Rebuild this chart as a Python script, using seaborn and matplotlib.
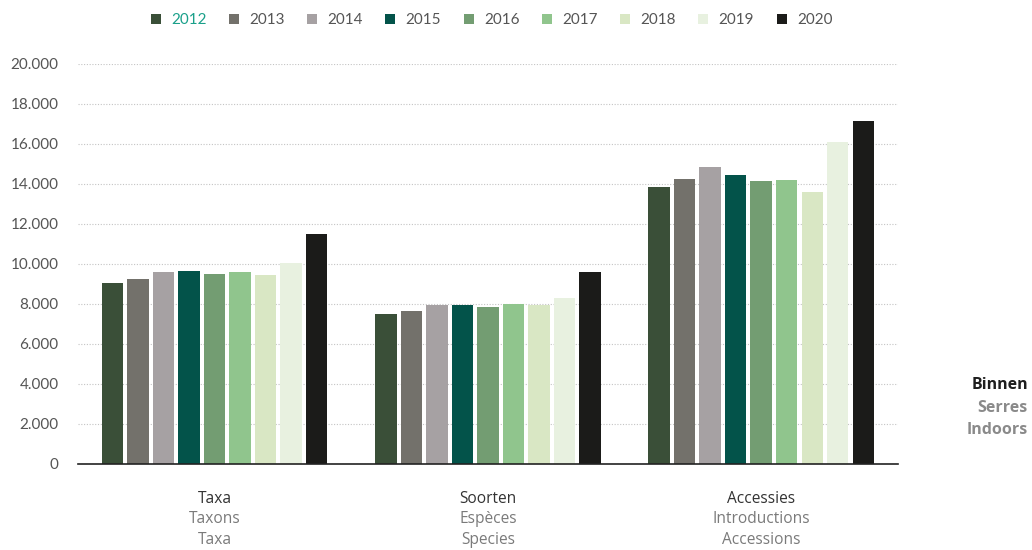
import matplotlib
matplotlib.use("Agg")
import matplotlib.pyplot as plt
from matplotlib.lines import Line2D
from matplotlib.ticker import FuncFormatter
import pandas as pd
import seaborn as sns

# Data
categories = ["Taxa", "Soorten", "Accessies"]
years = ["2012", "2013", "2014", "2015", "2016", "2017", "2018", "2019", "2020"]
taxa = [9050, 9250, 9580, 9650, 9520, 9580, 9450, 10050, 11480]
soorten = [7480, 7670, 7950, 7930, 7870, 8000, 7950, 8320, 9580]
accessies = [13870, 14250, 14850, 14450, 14130, 14200, 13600, 16100, 17150]
label_lines = [
    ["Taxa", "Taxons", "Taxa"],
    ["Soorten", "Espèces", "Species"],
    ["Accessies", "Introductions", "Accessions"],
]
side_label = ["Binnen", "Serres", "Indoors"]
colors = ["#3a4f38", "#73716b", "#a6a1a3", "#03534a", "#739d72",
          "#90c58d", "#d9e7c4", "#e8f1e0", "#1b1b19"]

rows = []
for cat, vals in zip(categories, [taxa, soorten, accessies]):
    for yr, v in zip(years, vals):
        rows.append({"categorie": cat, "jaar": yr, "waarde": v})
df = pd.DataFrame(rows)

sns.set_theme(style="white")
plt.rcParams["font.family"] = ["Lato", "DejaVu Sans"]

fig = plt.figure(figsize=(10.32, 5.5), dpi=100)
ax = fig.add_axes([0.0756, 0.1564, 0.7944, 0.7273])

sns.barplot(
    data=df, x="categorie", y="waarde", hue="jaar", order=categories,
    hue_order=years, palette=colors, saturation=1, width=0.84, gap=0.16,
    linewidth=0, ax=ax, legend=False,
)

ax.set_xlim(-0.5, 2.5)
ax.set_ylim(0, 20000)
ax.set_yticks(range(0, 20001, 2000))
ax.yaxis.set_major_formatter(FuncFormatter(lambda v, p: f"{int(v):,}".replace(",", ".")))
ax.tick_params(axis="y", labelsize=11, labelcolor="#555555", length=0, pad=14)
ax.set_xticks([])
ax.set_xlabel("")
ax.set_ylabel("")
ax.grid(axis="y", color="#c4c4c4", linestyle=(0, (1, 1.5)), linewidth=0.8)
ax.set_axisbelow(True)
for s in ["top", "right", "left"]:
    ax.spines[s].set_visible(False)
ax.spines["bottom"].set_color("#222222")
ax.spines["bottom"].set_linewidth(1.2)

# three-line category labels below the axis
for i, lines in enumerate(label_lines):
    for j, t in enumerate(lines):
        ax.text(i, -0.087 - j * 0.051, t, transform=ax.get_xaxis_transform(),
                ha="center", va="center", fontsize=11.2,
                family=["Open Sans", "DejaVu Sans"],
                color="#333333" if j == 0 else "#7a7a7a")

# label on the right side
for j, t in enumerate(side_label):
    fig.text(0.996, 1 - (385 + j * 22.5) / 550, t, ha="right", va="center",
             fontsize=11.5, fontweight="bold", family=["Open Sans", "DejaVu Sans"],
             color="#1e1e1e" if j == 0 else "#8a8a8a")

handles = [Line2D([], [], marker="s", linestyle="", markersize=6.5,
                  markerfacecolor=c, markeredgewidth=0) for c in colors]
leg = fig.legend(handles, years, loc="center", bbox_to_anchor=(0.475, 1 - 20 / 550),
                 ncol=9, frameon=False, fontsize=11, handletextpad=0.5,
                 columnspacing=1.3, handlelength=1.0)
for k, txt in enumerate(leg.get_texts()):
    txt.set_color("#1aa08a" if k == 0 else "#555555")

fig.savefig("out.png", dpi=100)
